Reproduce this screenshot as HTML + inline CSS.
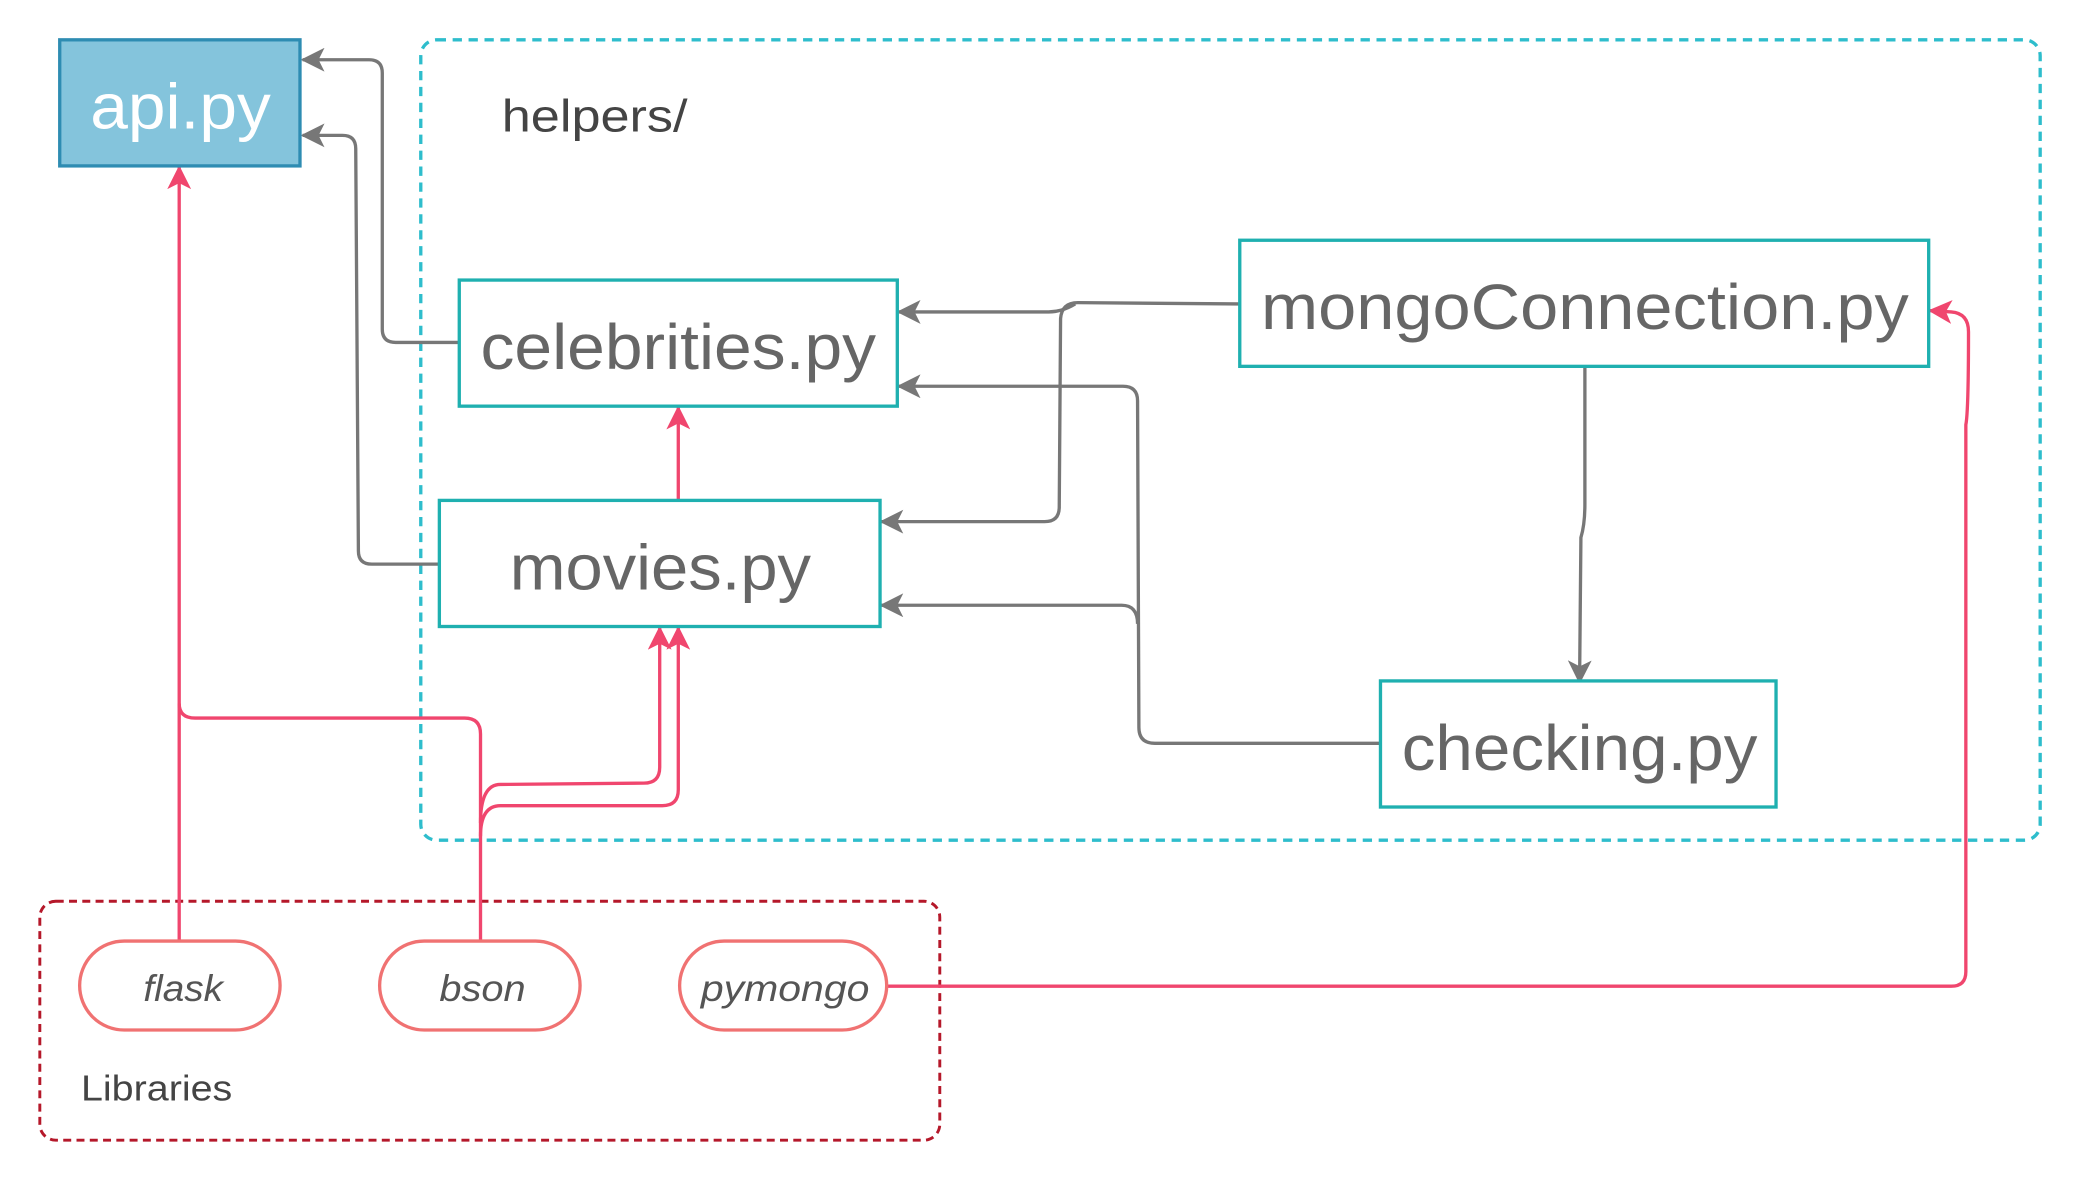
<!DOCTYPE html>
<html><head><meta charset="utf-8"><style>
html,body{margin:0;padding:0;background:#fff;}
svg{display:block;}
text{font-family:"Liberation Sans","DejaVu Sans",sans-serif;}
</style></head><body>
<svg width="2080" height="1180" viewBox="0 0 1567 889" preserveAspectRatio="none" xmlns="http://www.w3.org/2000/svg">
<defs>
<marker id="ag" viewBox="0 0 12 12" refX="11" refY="6" markerWidth="18" markerHeight="18" orient="auto" markerUnits="userSpaceOnUse">
<path d="M0,0 L12,6 L0,12 L3,6 Z" fill="#777"/></marker>
<marker id="ap" viewBox="0 0 12 12" refX="11" refY="6" markerWidth="18" markerHeight="18" orient="auto" markerUnits="userSpaceOnUse">
<path d="M0,0 L12,6 L0,12 L3,6 Z" fill="#f0466e"/></marker>
</defs>
<style>
.g{fill:none;stroke:#777;stroke-width:2.5;}
.p{fill:none;stroke:#f0466e;stroke-width:2.5;}
</style>
<rect x="317" y="30" width="1220" height="603" rx="12" fill="none" stroke="#2ebdcc" stroke-width="2.5" stroke-dasharray="7,5"/>
<text x="378" y="99" font-size="34" fill="#444" textLength="140" lengthAdjust="spacingAndGlyphs">helpers/</text>
<rect x="30" y="679" width="678" height="180" rx="12" fill="none" stroke="#b5182a" stroke-width="2.2" stroke-dasharray="6,4"/>
<text x="61" y="829" font-size="27" fill="#444" textLength="114" lengthAdjust="spacingAndGlyphs">Libraries</text>

<path class="g" d="M346,258 H298 Q288,258 288,248 V55 Q288,45 278,45 H228" marker-end="url(#ag)"/>
<path class="g" d="M331,425 H280 Q270,425 270,415 L268,112 Q268,102 258,102 H228" marker-end="url(#ag)"/>
<path class="g" d="M934,229 L812,228 Q800,228 799,240 L798,382 Q798,393 787,393 H664" marker-end="url(#ag)"/>
<path class="g" d="M810,229 Q800,235 790,235 H677" marker-end="url(#ag)"/>
<path class="g" d="M1040,560 L870,560 Q858,560 858,548 L857,302 Q857,291 846,291 H677" marker-end="url(#ag)"/>
<path class="g" d="M857,470 Q857,456 845,456 H664" marker-end="url(#ag)"/>
<path class="g" d="M1194,276 V380 Q1194,395 1191,405 L1190,514" marker-end="url(#ag)"/>

<path class="p" d="M135,709 V126" marker-end="url(#ap)"/>
<path class="p" d="M362,709 V553 Q362,541 350,541 H147 Q135,541 135,530"/>
<path class="p" d="M362,620 Q362,591 377,591 L485,590 Q497,590 497,578 V473" marker-end="url(#ap)"/>
<path class="p" d="M362,630 Q362,607 377,607 H499 Q511,607 511,595 V473" marker-end="url(#ap)"/>
<path class="p" d="M511,377 V307" marker-end="url(#ap)"/>
<path class="p" d="M668,743 H1470 Q1481,743 1481,732 V320 Q1483,310 1483,250 Q1483,236 1470,235 L1454,234" marker-end="url(#ap)"/>

<rect x="45" y="30" width="181" height="95" fill="#84c4dc" stroke="#2e8cb2" stroke-width="2.5"/>
<text x="68" y="97" font-size="48" fill="#fff" textLength="136" lengthAdjust="spacingAndGlyphs">api.py</text>
<rect x="346" y="211" width="330" height="95" fill="#fff" stroke="#1fb0b0" stroke-width="2.5"/>
<text x="362" y="278" font-size="48" fill="#666" textLength="298" lengthAdjust="spacingAndGlyphs">celebrities.py</text>
<rect x="331" y="377" width="332" height="95" fill="#fff" stroke="#1fb0b0" stroke-width="2.5"/>
<text x="384" y="444" font-size="48" fill="#666" textLength="227" lengthAdjust="spacingAndGlyphs">movies.py</text>
<rect x="934" y="181" width="519" height="95" fill="#fff" stroke="#1fb0b0" stroke-width="2.5"/>
<text x="950" y="248" font-size="48" fill="#666" textLength="488" lengthAdjust="spacingAndGlyphs">mongoConnection.py</text>
<rect x="1040" y="513" width="298" height="95" fill="#fff" stroke="#1fb0b0" stroke-width="2.5"/>
<text x="1056" y="580" font-size="48" fill="#666" textLength="268" lengthAdjust="spacingAndGlyphs">checking.py</text>

<rect x="60" y="709" width="151" height="67" rx="33.5" fill="#fff" stroke="#f07272" stroke-width="2.5"/>
<text x="108" y="754" font-size="28" font-style="italic" fill="#555" textLength="60" lengthAdjust="spacingAndGlyphs">flask</text>
<rect x="286" y="709" width="151" height="67" rx="33.5" fill="#fff" stroke="#f07272" stroke-width="2.5"/>
<text x="331" y="754" font-size="28" font-style="italic" fill="#555" textLength="65" lengthAdjust="spacingAndGlyphs">bson</text>
<rect x="512" y="709" width="156" height="67" rx="33.5" fill="#fff" stroke="#f07272" stroke-width="2.5"/>
<text x="528" y="754" font-size="28" font-style="italic" fill="#555" textLength="127" lengthAdjust="spacingAndGlyphs">pymongo</text>
</svg>
</body></html>
